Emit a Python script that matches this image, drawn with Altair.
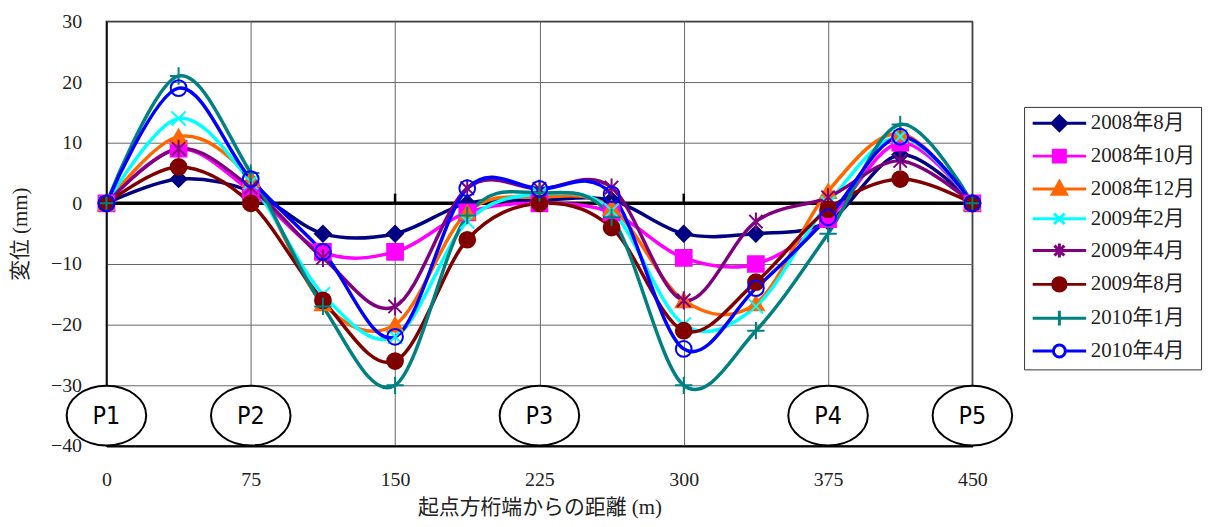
import altair as alt
import pandas as pd

# ---------------- data ----------------
x_m = [0, 37.5, 75, 112.5, 150, 187.5, 225, 262.5, 300, 337.5, 375, 412.5, 450]
series_names = ["2008年8月", "2008年10月", "2008年12月", "2009年2月",
                "2009年4月", "2009年8月", "2010年1月", "2010年4月"]
s_2008_08 = [0, 4, 2, -5, -5, 0, 0.5, 0.5, -5, -5, -3, 8, 0]
s_2008_10 = [0, 9, 2, -8, -8, -1.5, 0, -1.5, -9, -10, -2.6, 10, 0]
s_2008_12 = [0, 11, 4, -16.5, -20, -1.5, 1, -0.7, -16, -16.5, 2, 11.5, 0]
s_2009_02 = [0, 14, 3.5, -15, -22, -3, 1.5, -1.2, -20, -17, 0, 11, 0]
s_2009_04 = [0, 9, 2.6, -9, -17, 2.5, 2.4, 2.6, -16, -3, 1, 7, 0]
s_2009_08 = [0, 6, 0, -16, -26, -6, 0, -4, -21, -13, -1, 4, 0]
s_2010_01 = [0, 21, 5, -17, -30, -2, 1.7, -2.3, -30, -21, -5, 13, 0]
s_2010_04 = [0, 19, 4, -8, -22, 2.5, 2.4, 1.5, -24, -14, -2.3, 11, 0]
all_series = [s_2008_08, s_2008_10, s_2008_12, s_2009_02,
              s_2009_04, s_2009_08, s_2010_01, s_2010_04]

pier_labels = ["P1", "P2", "P3", "P4", "P5"]
pier_x = [0, 75, 225, 375, 450]
pier_y = [-35, -35, -35, -35, -35]

x_ticks = [0, 75, 150, 225, 300, 375, 450]
y_ticks = [-40, -30, -20, -10, 0, 10, 20, 30]
zero_tick_x = [75, 150, 225, 300, 375]

x_title = "起点方桁端からの距離 (m)"
y_title = "変位 (mm)"

# ---------------- styles ----------------
colors = ["#000080", "#FF00FF", "#FF6600", "#00FFFF",
          "#800080", "#800000", "#008080", "#0000FF"]
fills = ["#000080", "#FF00FF", "#FF6600", "transparent",
         "transparent", "#800000", "transparent", "transparent"]
legend_fills = ["#000080", "#FF00FF", "#FF6600", "transparent",
                "transparent", "#800000", "transparent", "white"]
X_PATH = "M-0.9,-0.9L0.9,0.9M-0.9,0.9L0.9,-0.9"
STAR_PATH = "M-0.85,-0.85L0.85,0.85M-0.85,0.85L0.85,-0.85M0,-1.15L0,1.15"
PLUS_PATH = "M-1.1,0L1.1,0M0,-1.1L0,1.1"
shapes = ["diamond", "square", "triangle-up", X_PATH,
          STAR_PATH, "circle", PLUS_PATH, "circle"]

# legend symbols: marker with a line through it (unit r = sqrt(200)/2 px)
legend_shapes = [
    "M-3.8,0H3.8M0,-1.05L1.05,0L0,1.05L-1.05,0Z",
    "M-3.8,0H3.8M-0.85,-0.85H0.85V0.85H-0.85Z",
    "M-3.8,0H3.8M0,-1.05L1.0,0.75L-1.0,0.75Z",
    "M-3.8,0H3.8M-0.75,-0.75L0.75,0.75M-0.75,0.75L0.75,-0.75",
    "M-3.8,0H3.8M-0.7,-0.7L0.7,0.7M-0.7,0.7L0.7,-0.7M0,-1V1",
    "M-3.8,0H3.8M-0.95,0A0.95,0.95 0 1,0 0.95,0A0.95,0.95 0 1,0 -0.95,0Z",
    "M-3.8,0H3.8M0,-1.05V1.05",
    "M-3.8,0H-0.85M0.85,0H3.8M-0.85,0A0.85,0.85 0 1,0 0.85,0A0.85,0.85 0 1,0 -0.85,0Z",
]
ELLIPSE = "M-1,0A1,0.75 0 1,0 1,0A1,0.75 0 1,0 -1,0Z"

SERIF = "'Liberation Serif', 'DejaVu Serif', serif"
JP = "'Liberation Serif', 'DejaVu Serif', 'Noto Sans CJK JP', serif"
NARROW = "'Liberation Sans Narrow', 'DejaVu Sans Condensed', 'Liberation Sans', sans-serif"

rows = []
for name, vals in zip(series_names, all_series):
    for xv, yv in zip(x_m, vals):
        rows.append({"series": name, "x": xv, "y": yv})
df = pd.DataFrame(rows)

piers = pd.DataFrame({"label": pier_labels, "x": pier_x, "y": pier_y})
zero_df = pd.DataFrame({"y": [0]})
ticks_df = pd.DataFrame({"x": zero_tick_x, "y": [0] * len(zero_tick_x),
                         "y2": [1.6] * len(zero_tick_x)})

x_scale = alt.Scale(domain=[0, 450], nice=False, zero=False)
y_scale = alt.Scale(domain=[-40, 30], nice=False)

x_axis = alt.Axis(values=x_ticks, grid=True, gridColor="#666666", gridWidth=1,
                  ticks=False, tickSize=0, labelPadding=24, labelFont=SERIF,
                  labelFontSize=20, labelColor="#222222", labelFlush=False,
                  domainColor="black", domainWidth=2, title=x_title,
                  titleFont=JP, titleFontSize=21, titleFontWeight="normal",
                  titleColor="#222222", titlePadding=7)
y_axis = alt.Axis(values=y_ticks, grid=True, gridColor="#666666", gridWidth=1,
                  ticks=False, tickSize=0, labelPadding=25, labelFont=SERIF,
                  labelFontSize=20, labelColor="#222222", labelFlush=False,
                  domainColor="black", domainWidth=1.5, title=y_title,
                  titleFont=JP, titleFontSize=21, titleFontWeight="normal",
                  titleColor="#222222", titlePadding=20)

X = alt.X("x:Q", scale=x_scale, axis=x_axis)
Y = alt.Y("y:Q", scale=y_scale, axis=y_axis)

ellipses = alt.Chart(piers).mark_point(
    shape=ELLIPSE, size=6400, filled=True, fill="white", stroke="black",
    strokeWidth=2, opacity=1
).encode(x=alt.X("x:Q", scale=x_scale), y=alt.Y("y:Q", scale=y_scale))

pier_text = alt.Chart(piers).mark_text(
    font=NARROW, fontSize=25, color="black", align="center", baseline="middle"
).encode(x=alt.X("x:Q", scale=x_scale), y=alt.Y("y:Q", scale=y_scale),
         text="label:N")

zero_line = alt.Chart(zero_df).mark_rule(color="black", strokeWidth=3.5).encode(
    y=alt.Y("y:Q", scale=y_scale))
zero_ticks = alt.Chart(ticks_df).mark_rule(color="black", strokeWidth=2.5).encode(
    x=alt.X("x:Q", scale=x_scale), y=alt.Y("y:Q", scale=y_scale), y2="y2:Q")

lines = alt.Chart(df).mark_line(interpolate="cardinal", strokeWidth=3.5).encode(
    x=X, y=Y,
    color=alt.Color("series:N", scale=alt.Scale(domain=series_names, range=colors),
                    legend=None),
)

points = alt.Chart(df).mark_point(size=250, strokeWidth=2, opacity=1).encode(
    x=alt.X("x:Q", scale=x_scale), y=alt.Y("y:Q", scale=y_scale),
    shape=alt.Shape("series:N", scale=alt.Scale(domain=series_names, range=shapes),
                    legend=None),
    fill=alt.Fill("series:N", scale=alt.Scale(domain=series_names, range=fills),
                  legend=None),
    stroke=alt.Stroke("series:N", scale=alt.Scale(domain=series_names, range=colors),
                      legend=None),
)

leg = alt.Legend(title=None, orient="none", legendX=923, legendY=86,
                 strokeColor="#333333", fillColor="white", padding=6,
                 labelFont=JP, labelFontSize=21, labelColor="#222222",
                 symbolSize=200, symbolStrokeWidth=3, symbolOpacity=1,
                 symbolOffset=19, labelOffset=21, rowPadding=7, labelLimit=300)

legend_layer = alt.Chart(df).transform_filter("false").mark_point(
    opacity=1, strokeWidth=3
).encode(
    shape=alt.Shape("series:N", scale=alt.Scale(domain=series_names, range=legend_shapes),
                    legend=leg),
    fill=alt.Fill("series:N", scale=alt.Scale(domain=series_names, range=legend_fills),
                  legend=leg),
    stroke=alt.Stroke("series:N", scale=alt.Scale(domain=series_names, range=colors),
                      legend=leg),
)

chart = alt.layer(
    ellipses, pier_text, zero_line, zero_ticks, lines, points, legend_layer
).resolve_scale(
    shape="independent", fill="independent", stroke="independent"
).properties(
    width=871, height=427,
    autosize=alt.AutoSizeParams(type="none"),
    padding={"left": 99, "top": 12, "right": 240, "bottom": 72},
).configure_view(stroke="#111111", strokeWidth=1.5)

chart.save("out.html", embed_options={"renderer": "svg", "actions": False})
